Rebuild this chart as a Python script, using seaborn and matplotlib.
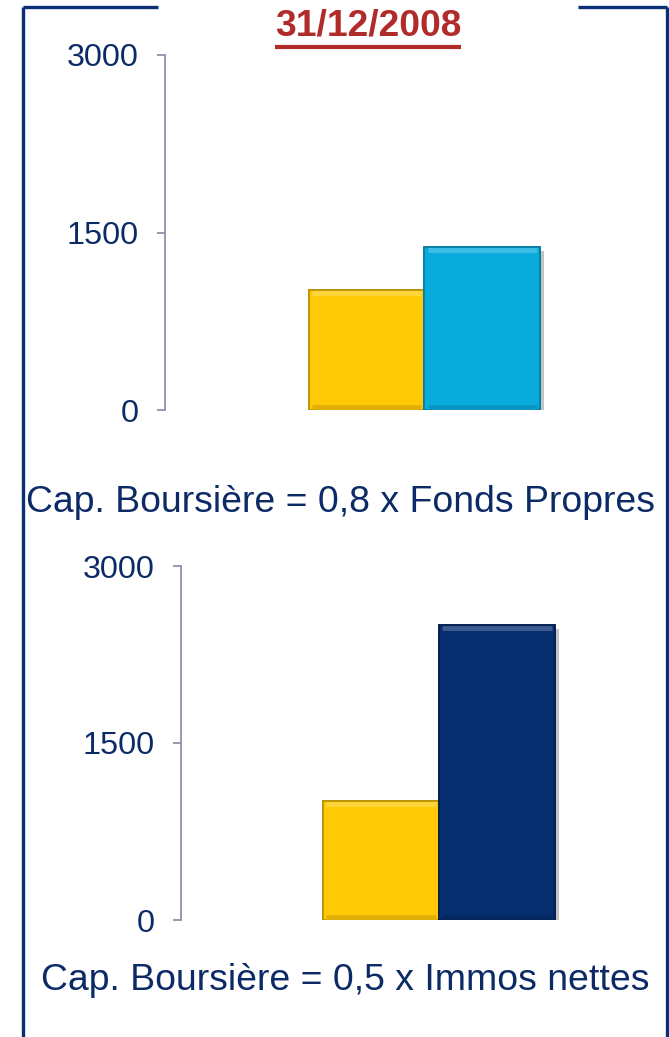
import matplotlib
matplotlib.use("Agg")
import matplotlib.pyplot as plt
import matplotlib.patheffects as pe
import matplotlib.transforms as mtransforms
from matplotlib.lines import Line2D
import pandas as pd
import seaborn as sns

# data
date_label = "31/12/2008"
top_series = ["Cap. Boursière", "Fonds Propres"]
top_values = [1010, 1375]
bottom_series = ["Cap. Boursière", "Immos nettes"]
bottom_values = [1010, 2500]
y_ticks = [0, 1500, 3000]
top_caption = "Cap. Boursière = 0,8 x Fonds Propres"
bottom_caption = "Cap. Boursière = 0,5 x Immos nettes"

NAVY_TEXT = "#0b2a66"
FRAME = "#0a2f75"
AXIS_GREY = "#8c90a8"
TITLE_RED = "#b22b2b"
top_colors = ["#ffc905", "#08abdc"]
bottom_colors = ["#ffc905", "#062d6e"]

sns.set_theme(style="white")
plt.rcParams["font.family"] = ["Liberation Sans", "DejaVu Sans"]

W, H = 669, 1037
fig = plt.figure(figsize=(W / 100, H / 100), dpi=100)


def px_axes(left, top, right, bottom):
    return fig.add_axes([left / W, 1 - bottom / H, (right - left) / W, (bottom - top) / H])


def shade(c, k):
    r, g, b = matplotlib.colors.to_rgb(c)
    if k < 1:
        return (r * k, g * k, b * k)
    t = k - 1
    return (r + (1 - r) * t, g + (1 - g) * t, b + (1 - b) * t)


def draw_panel(ax, series, values, colors, center_px, total_px, left_px, right_px, pad):
    df = pd.DataFrame({"date": [date_label] * len(series), "serie": series, "valeur": values})
    s = 500.0  # pixels per x unit
    width = total_px / s
    sns.barplot(data=df, x="date", y="valeur", hue="serie", palette=colors,
                width=width, gap=0, legend=False, ax=ax, saturation=1)
    ax.set_xlim(-(center_px - left_px) / s, (right_px - center_px) / s)
    ax.set_ylim(0, 3000)
    ax.set_yticks(y_ticks)
    ax.set_yticklabels([str(t) for t in y_ticks])
    ax.set_xticks([])
    ax.set_xlabel("")
    ax.set_ylabel("")
    for side in ["top", "right", "bottom"]:
        ax.spines[side].set_visible(False)
    ax.spines["left"].set_color(AXIS_GREY)
    ax.spines["left"].set_linewidth(1.3)
    ax.tick_params(axis="y", left=True, length=6, width=1.3, color=AXIS_GREY,
                   labelsize=23.3, labelcolor=NAVY_TEXT, pad=pad)
    ax.patch.set_alpha(0)
    down = mtransforms.ScaledTranslation(0, -3 / 100, fig.dpi_scale_trans)
    up = mtransforms.ScaledTranslation(0, 3 / 100, fig.dpi_scale_trans)
    for p, c in zip(list(ax.patches), colors):
        p.set_edgecolor(shade(c, 0.72))
        p.set_linewidth(1.2)
        p.set_path_effects([pe.withSimplePatchShadow(offset=(3, -3), shadow_rgbFace="#555555", alpha=0.35),
                            pe.Normal()])
        x0, w, h = p.get_x(), p.get_width(), p.get_height()
        # bevel: light band along the top, darker band along the bottom
        ax.plot([x0 + w * 0.03, x0 + w * 0.97], [h, h], transform=ax.transData + down,
                color=shade(c, 1.22), linewidth=3.5, solid_capstyle="butt", zorder=3)
        ax.plot([x0 + w * 0.03, x0 + w * 0.97], [0, 0], transform=ax.transData + up,
                color=shade(c, 0.88), linewidth=3.5, solid_capstyle="butt", zorder=3)


ax1 = px_axes(165, 55, 665, 410)
draw_panel(ax1, top_series, top_values, top_colors, 424.5, 231, 165, 665, 13)

ax2 = px_axes(181, 566, 665, 920)
draw_panel(ax2, bottom_series, bottom_values, bottom_colors, 439, 232, 181, 665, 13)

fig.text(341 / W, 1 - 502 / H, top_caption, ha="center", va="center",
         fontsize=26.9, color=NAVY_TEXT)
fig.text(345 / W, 1 - 980 / H, bottom_caption, ha="center", va="center",
         fontsize=26.9, color=NAVY_TEXT)

title = fig.text(368 / W, 1 - 26 / H, date_label, ha="center", va="center",
                 fontsize=26.8, fontweight="bold", color=TITLE_RED)

# frame around the slide block
frame_kw = dict(color=FRAME, linewidth=2.4, transform=fig.transFigure, solid_capstyle="butt")
fig.add_artist(Line2D([23 / W, 23 / W], [0, 1 - 7 / H], **frame_kw))
fig.add_artist(Line2D([23 / W, 158 / W], [1 - 7 / H, 1 - 7 / H], **frame_kw))
fig.add_artist(Line2D([578 / W, 667 / W], [1 - 7 / H, 1 - 7 / H], **frame_kw))
fig.add_artist(Line2D([667 / W, 667 / W], [0, 1 - 7 / H], **frame_kw))

# underline the date
fig.canvas.draw()
bb = title.get_window_extent().transformed(fig.transFigure.inverted())
fig.add_artist(Line2D([bb.x0, bb.x1], [bb.y0 - 3 / H, bb.y0 - 3 / H], color=TITLE_RED,
                      linewidth=3, transform=fig.transFigure, solid_capstyle="butt"))

fig.savefig("out.png", dpi=100)
plt.close(fig)
